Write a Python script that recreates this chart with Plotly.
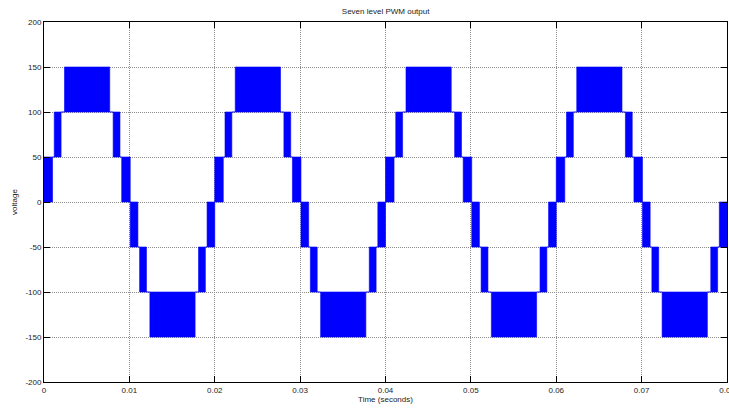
import plotly.graph_objects as go

# Block data for one period (time in seconds, relative to the start of the period)
blk_start = [0.0000, 0.0012, 0.0024, 0.0081, 0.0091, 0.0101, 0.0112, 0.0124, 0.0181, 0.0191]
blk_end   = [0.0010, 0.0020, 0.0077, 0.0089, 0.0101, 0.0110, 0.0120, 0.0177, 0.0189, 0.0200]
blk_low   = [0, 50, 100, 50, 0, -50, -100, -150, -100, -50]
blk_high  = [50, 100, 150, 100, 50, 0, -50, -100, -50, 0]
period_starts = [0.00, 0.02, 0.04, 0.06]

x_ticks = [0, 0.01, 0.02, 0.03, 0.04, 0.05, 0.06, 0.07, 0.08]
x_labels = ["0", "0.01", "0.02", "0.03", "0.04", "0.05", "0.06", "0.07", "0.08"]
y_ticks = [-200, -150, -100, -50, 0, 50, 100, 150, 200]
y_labels = ["-200", "-150", "-100", "-50", "0", "50", "100", "150", "200"]

T_END = 0.08
BLUE = "#0000FF"

# Build list of all blocks
blocks = []
for p in period_starts:
    for s, e, lo, hi in zip(blk_start, blk_end, blk_low, blk_high):
        s2, e2 = p + s, min(p + e, T_END)
        if s2 < T_END:
            blocks.append((s2, e2, lo, hi))

# Filled polygons for high-frequency switching bands
px, py = [], []
for s, e, lo, hi in blocks:
    px += [s, e, e, s, s, None]
    py += [lo, lo, hi, hi, lo, None]

# Connecting segments at the shared level between consecutive blocks
cx, cy = [], []
for (s1, e1, lo1, hi1), (s2, e2, lo2, hi2) in zip(blocks[:-1], blocks[1:]):
    common = {lo1, hi1} & {lo2, hi2}
    if common and s2 > e1:
        lvl = common.pop()
        cx += [e1, s2, None]
        cy += [lvl, lvl, None]

fig = go.Figure()
fig.add_trace(go.Scatter(x=px, y=py, mode="lines", fill="toself",
                         fillcolor=BLUE, line=dict(color=BLUE, width=0.6),
                         hoverinfo="skip", showlegend=False))
fig.add_trace(go.Scatter(x=cx, y=cy, mode="lines",
                         line=dict(color=BLUE, width=1),
                         hoverinfo="skip", showlegend=False))

font = dict(family="Liberation Sans, Arial, sans-serif", size=8, color="#222222")

fig.update_layout(
    width=729, height=408,
    margin=dict(l=44, r=2, t=22, b=26, autoexpand=False),
    paper_bgcolor="white", plot_bgcolor="white",
    font=font,
    title=dict(text="Seven level PWM output", x=0.529, xanchor="center",
               y=0.973, yanchor="middle", font=dict(size=8, color="#222222")),
    showlegend=False,
)
fig.update_xaxes(
    range=[0, 0.08], tickvals=x_ticks, ticktext=x_labels,
    showline=True, linecolor="black", linewidth=1, mirror="ticks",
    ticks="inside", ticklen=6, tickcolor="black",
    showgrid=True, gridcolor="#8c8c8c", gridwidth=1, griddash="1px,1px",
    zeroline=False, tickfont=font, ticklabeloverflow="allow", automargin=False,
    title=dict(text="Time (seconds)", standoff=2, font=font),
)
fig.update_yaxes(
    range=[-200, 200], tickvals=y_ticks, ticktext=y_labels,
    showline=True, linecolor="black", linewidth=1, mirror="ticks",
    ticks="inside", ticklen=6, tickcolor="black",
    showgrid=True, gridcolor="#8c8c8c", gridwidth=1, griddash="1px,1px",
    zeroline=False, tickfont=font, automargin=False,
    title=dict(text="voltage", standoff=6, font=font),
)

fig.write_html("out.html")
